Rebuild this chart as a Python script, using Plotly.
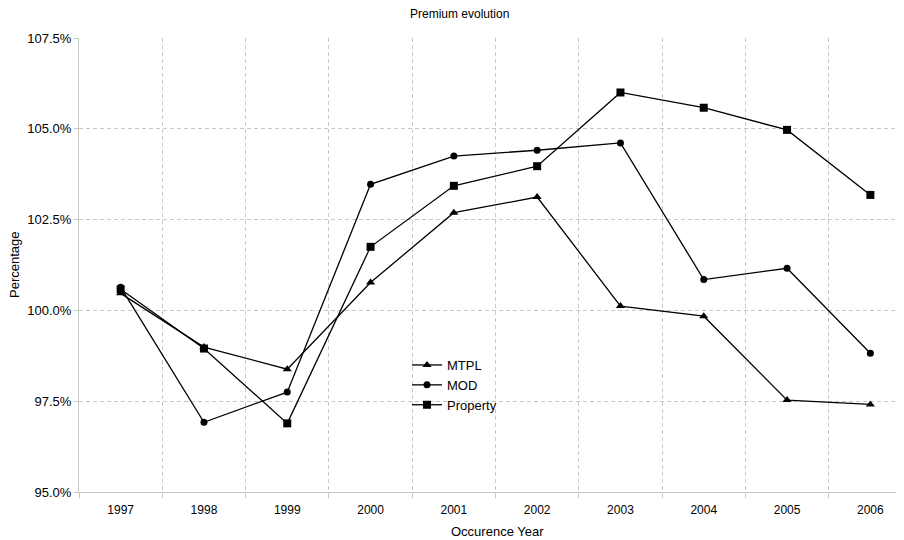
import plotly.graph_objects as go

years = ["1997", "1998", "1999", "2000", "2001", "2002", "2003", "2004", "2005", "2006"]
mtpl = [100.47, 98.99, 98.38, 100.77, 102.69, 103.12, 100.12, 99.84, 97.53, 97.41]
mod = [100.64, 96.92, 97.75, 103.47, 104.25, 104.41, 104.61, 100.85, 101.16, 98.82]
prop = [100.58, 98.95, 96.89, 101.75, 103.43, 103.97, 106.00, 105.58, 104.97, 103.18]

FONT = "Liberation Sans"
grid = "#c8c8c8"

fig = go.Figure()
for name, vals, sym, size in [("MTPL", mtpl, "triangle-up", 8),
                              ("MOD", mod, "circle", 7),
                              ("Property", prop, "square", 8)]:
    fig.add_trace(go.Scatter(
        x=years, y=vals, name=name, mode="lines+markers",
        line=dict(color="black", width=1.3),
        marker=dict(symbol=sym, size=size, color="black"),
    ))

# page body has an 8px margin; figure coords = screen coords - 8
L, T, B = 71, 30, 56
W, H = 904, 540
PW, PH = W - L, H - T - B

def px(xs):
    return (xs - 8 - L) / PW

def py(ys):
    return ((H - B) - (ys - 8)) / PH

fig.update_layout(
    width=W, height=H,
    margin=dict(l=L, r=0, t=T, b=B),
    paper_bgcolor="white", plot_bgcolor="white",
    font=dict(family=FONT, size=12, color="black"),
    showlegend=True,
    legend=dict(x=px(407), y=py(350), xanchor="left", yanchor="top",
                bgcolor="rgba(0,0,0,0)", font=dict(size=13), tracegroupgap=0),
    annotations=[
        dict(text="Premium evolution", x=px(459), y=py(14), xref="paper", yref="paper",
             showarrow=False, font=dict(size=12), xanchor="center", yanchor="middle"),
        dict(text="Occurence Year", x=px(497), y=py(531), xref="paper", yref="paper",
             showarrow=False, font=dict(size=13), xanchor="center", yanchor="middle"),
        dict(text="Percentage", x=px(14), y=py(265), xref="paper", yref="paper",
             showarrow=False, font=dict(size=13), textangle=-90,
             xanchor="center", yanchor="middle"),
    ],
)

fig.update_xaxes(
    type="category", range=[-0.5, 9.5],
    tickson="boundaries", ticks="outside", ticklen=5, tickcolor=grid,
    showgrid=True, gridcolor=grid, griddash="4px,3px", gridwidth=1,
    showline=True, linecolor=grid, linewidth=1, ticklabelstandoff=7,
    tickfont=dict(size=12), zeroline=False,
)
fig.update_yaxes(
    range=[95, 107.5], dtick=2.5, tick0=95, tickformat=".1f", ticksuffix="%",
    ticks="outside", ticklen=4, tickcolor=grid,
    showgrid=True, gridcolor=grid, griddash="4px,3px", gridwidth=1,
    showline=True, linecolor=grid, linewidth=1,
    tickfont=dict(size=13), zeroline=False,
)

fig.write_html("out.html")
